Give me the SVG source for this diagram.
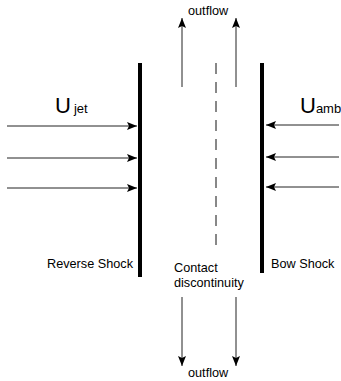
<svg xmlns="http://www.w3.org/2000/svg" width="341" height="381" viewBox="0 0 341 381">
  <style>
    .shock { stroke: #000; stroke-width: 4; fill: none; }
    .flow { stroke: #222; stroke-width: 1; fill: none; }
    .cd { stroke: #111; stroke-width: 1; stroke-dasharray: 11 8; fill: none; }
    text { font-family: "Liberation Sans", Arial, sans-serif; fill: #000; }
    .lbl { font-size: 12.7px; }
  </style>
  <defs>
    <marker id="arr" markerWidth="10" markerHeight="8" refX="10" refY="4" orient="auto" markerUnits="userSpaceOnUse">
      <path d="M0,0 L10,4 L0,8 L2,4 Z" fill="#000"/>
    </marker>
  </defs>
  <rect width="341" height="381" fill="#fff"/>

  <g id="reverse-shock">
    <line class="shock" x1="140" y1="63" x2="140" y2="277"/>
    <text class="lbl" x="47" y="268">Reverse Shock</text>
  </g>
  <g id="bow-shock">
    <line class="shock" x1="262" y1="63" x2="262" y2="273"/>
    <text class="lbl" x="271" y="268">Bow Shock</text>
  </g>
  <g id="contact-discontinuity">
    <line class="cd" x1="216" y1="63" x2="216" y2="246"/>
    <text class="lbl" x="174" y="272">Contact</text>
    <text class="lbl" x="174" y="287">discontinuity</text>
  </g>
  <g id="u-jet">
    <text x="55" y="113" font-size="22">U<tspan font-size="13" dx="3">jet</tspan></text>
  </g>
  <g id="u-amb">
    <text x="300" y="113" font-size="22">U<tspan font-size="13">amb</tspan></text>
  </g>
  <g id="outflow-top">
    <text class="lbl" x="188" y="15">outflow</text>
  </g>
  <g id="outflow-bottom">
    <text class="lbl" x="188" y="377">outflow</text>
  </g>

  <g id="connectors">
    <line class="flow" x1="7" y1="126" x2="137" y2="126" marker-end="url(#arr)"/>
    <line class="flow" x1="7" y1="158" x2="137" y2="158" marker-end="url(#arr)"/>
    <line class="flow" x1="7" y1="188" x2="137" y2="188" marker-end="url(#arr)"/>
    <line class="flow" x1="339" y1="125" x2="266" y2="125" marker-end="url(#arr)"/>
    <line class="flow" x1="339" y1="157" x2="266" y2="157" marker-end="url(#arr)"/>
    <line class="flow" x1="339" y1="187" x2="266" y2="187" marker-end="url(#arr)"/>
    <line class="flow" x1="182" y1="87" x2="182" y2="18" marker-end="url(#arr)"/>
    <line class="flow" x1="236" y1="87" x2="236" y2="18" marker-end="url(#arr)"/>
    <line class="flow" x1="182" y1="297" x2="182" y2="366" marker-end="url(#arr)"/>
    <line class="flow" x1="236" y1="297" x2="236" y2="366" marker-end="url(#arr)"/>
  </g>
</svg>
